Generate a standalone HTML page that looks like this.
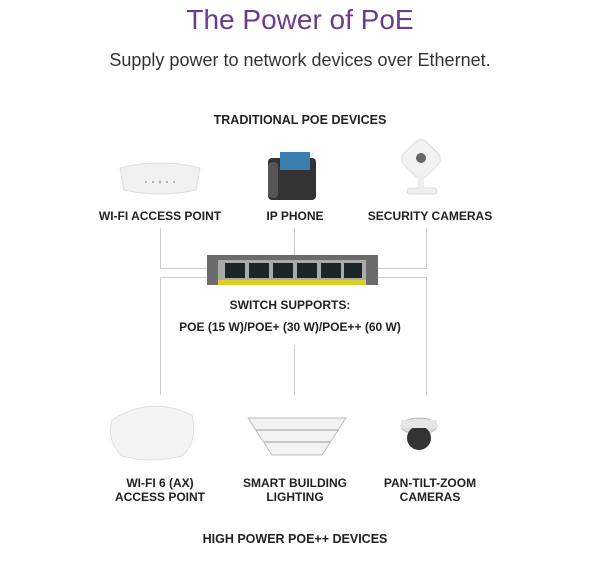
<!DOCTYPE html>
<html><head><style>
body{margin:0;width:600px;height:564px;background:#fff;position:relative;overflow:hidden;font-family:"Liberation Sans",sans-serif}
.t{position:absolute;left:0;width:600px;text-align:center}
.b{position:absolute;font-weight:bold;font-size:12px;color:#222;text-align:center;line-height:14px}
.l{position:absolute;background:#ccc}
</style></head><body>
<div class="t" style="top:4px;font-size:28px;color:#6b3b8f">The Power of PoE</div>
<div class="t" style="top:50px;font-size:18px;color:#333">Supply power to network devices over Ethernet.</div>
<div class="b" style="left:0;width:600px;top:113px;font-size:12.5px">TRADITIONAL POE DEVICES</div>
<div class="b" style="left:90px;width:140px;top:209px">WI-FI ACCESS POINT</div>
<div class="b" style="left:240px;width:110px;top:209px">IP PHONE</div>
<div class="b" style="left:355px;width:150px;top:209px">SECURITY CAMERAS</div>
<div class="b" style="left:0;width:580px;top:298px">SWITCH SUPPORTS:</div>
<div class="b" style="left:0;width:580px;top:320px">POE (15 W)/POE+ (30 W)/POE++ (60 W)</div>
<div class="b" style="left:90px;width:140px;top:476px">WI-FI 6 (AX)<br>ACCESS POINT</div>
<div class="b" style="left:225px;width:140px;top:476px">SMART BUILDING<br>LIGHTING</div>
<div class="b" style="left:355px;width:150px;top:476px">PAN-TILT-ZOOM<br>CAMERAS</div>
<div class="b" style="left:0;width:590px;top:532px;font-size:12.5px">HIGH POWER POE++ DEVICES</div>
<div class="l" style="left:160px;top:228px;width:1px;height:41px"></div>
<div class="l" style="left:160px;top:268px;width:48px;height:1px"></div>
<div class="l" style="left:294px;top:228px;width:1px;height:28px"></div>
<div class="l" style="left:426px;top:228px;width:1px;height:41px"></div>
<div class="l" style="left:377px;top:268px;width:50px;height:1px"></div>
<div class="l" style="left:160px;top:277px;width:48px;height:1px"></div>
<div class="l" style="left:160px;top:277px;width:1px;height:118px"></div>
<div class="l" style="left:377px;top:277px;width:50px;height:1px"></div>
<div class="l" style="left:426px;top:277px;width:1px;height:118px"></div>
<div class="l" style="left:294px;top:345px;width:1px;height:50px"></div>
<svg style="position:absolute;left:0;top:0" width="600" height="564">
<rect x="207" y="255" width="171" height="30" fill="#6b6b6b"/>
<rect x="218" y="260" width="148" height="25" fill="#aaa"/>
<rect x="218" y="280" width="148" height="5" fill="#d8cf2a"/>
<g fill="#1d2428">
<rect x="225" y="263" width="20" height="15"/><rect x="249" y="263" width="20" height="15"/><rect x="273" y="263" width="20" height="15"/><rect x="297" y="263" width="20" height="15"/><rect x="321" y="263" width="20" height="15"/><rect x="344" y="263" width="18" height="15"/>
</g>
<path d="M120 168 Q160 158 200 168 L196 190 Q160 198 124 190Z" fill="#f1f1f1" stroke="#ddd"/>
<g fill="#999"><circle cx="146" cy="182" r="1"/><circle cx="153" cy="182" r="1"/><circle cx="160" cy="182" r="1"/><circle cx="167" cy="182" r="1"/><circle cx="174" cy="182" r="1"/></g>
<rect x="268" y="158" width="48" height="42" rx="4" fill="#333"/>
<rect x="280" y="152" width="30" height="18" fill="#3a7fb0"/>
<rect x="268" y="162" width="10" height="36" rx="4" fill="#555"/>
<rect x="405" y="143" width="32" height="32" rx="8" fill="#f2f2f2" stroke="#ddd" transform="rotate(45 421 159)"/>
<circle cx="421" cy="158" r="5" fill="#666"/>
<rect x="407" y="188" width="30" height="6" rx="3" fill="#eee" stroke="#ddd"/>
<rect x="418" y="175" width="6" height="14" fill="#eee"/>
<path d="M112 420 Q150 395 192 415 Q198 442 182 456 Q150 464 122 456 Q106 440 112 420Z" fill="#f4f4f4" stroke="#e0e0e0"/>
<path d="M248 418 L346 418 L322 455 L272 455Z" fill="#f3f3f3" stroke="#bbb"/>
<line x1="256" y1="430" x2="338" y2="430" stroke="#999"/><line x1="264" y1="442" x2="330" y2="442" stroke="#999"/>
<ellipse cx="419" cy="426" rx="18" ry="8" fill="#ddd" stroke="#bbb"/>
<circle cx="419" cy="438" r="12" fill="#333"/>
<rect x="401" y="420" width="36" height="8" fill="#e6e6e6"/>
</svg>
</body></html>
